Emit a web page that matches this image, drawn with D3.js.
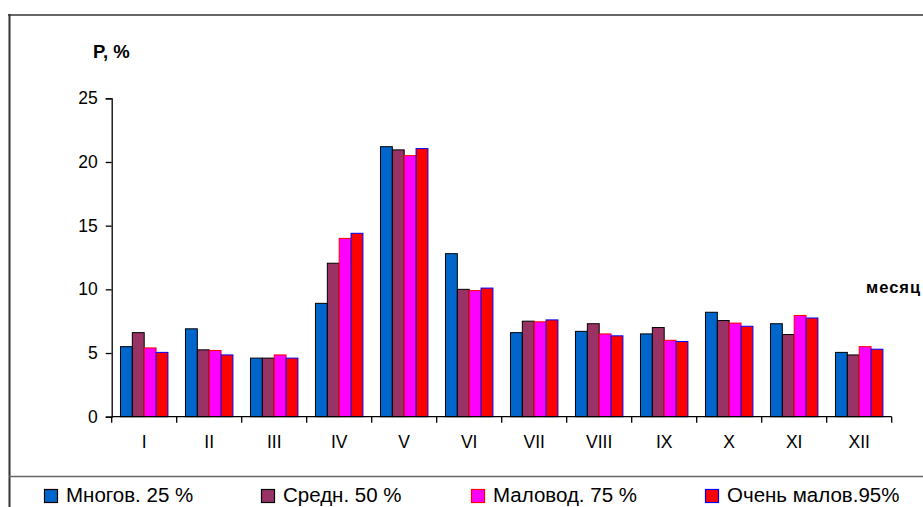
<!DOCTYPE html>
<html>
<head>
<meta charset="utf-8">
<script src="https://cdn.jsdelivr.net/npm/d3@7"></script>
<style>
  html, body { margin: 0; padding: 0; background: #fff; }
  svg { display: block; font-family: "Liberation Sans", Arial, sans-serif; }
</style>
</head>
<body>
<svg id="chart" width="923" height="507"></svg>
<script>
const months = ["I", "II", "III", "IV", "V", "VI", "VII", "VIII", "IX", "X", "XI", "XII"];
const seriesNames = ["Многов. 25 %", "Средн. 50 %", "Маловод. 75 %", "Очень малов.95%"];
const mnogov = [5.5, 6.9, 4.6, 8.9, 21.2, 12.8, 6.6, 6.7, 6.5, 8.2, 7.3, 5.05];
const sredn = [6.6, 5.25, 4.6, 12.05, 20.95, 10.0, 7.5, 7.3, 7.0, 7.55, 6.45, 4.85];
const malovod = [5.4, 5.2, 4.85, 14.0, 20.5, 9.9, 7.45, 6.5, 6.0, 7.35, 7.95, 5.5];
const ochenMalov = [5.05, 4.85, 4.6, 14.4, 21.05, 10.1, 7.6, 6.35, 5.9, 7.1, 7.75, 5.3];
const yTicks = [0, 5, 10, 15, 20, 25];
const yLabel = "P, %";
const xLabel = "месяц";

const seriesValues = [mnogov, sredn, malovod, ochenMalov];
const fills = ["#0066CC", "#993366", "#FF00FF", "#FF0000"];
const strokes = ["#000000", "#000000", "#FF0000", "#0000FF"];

const svg = d3.select("#chart");

// frame
svg.append("line").attr("x1", 8).attr("x2", 923).attr("y1", 15).attr("y2", 15)
  .attr("stroke", "#666").attr("stroke-width", 2);
svg.append("line").attr("x1", 9.5).attr("x2", 9.5).attr("y1", 14).attr("y2", 507)
  .attr("stroke", "#333").attr("stroke-width", 2);
svg.append("line").attr("x1", 9).attr("x2", 923).attr("y1", 476.5).attr("y2", 476.5)
  .attr("stroke", "#666").attr("stroke-width", 1.5);

const plotLeft = 111.7, plotRight = 891.7, plotTop = 98.3, plotBottom = 416.7;

const x0 = d3.scaleBand().domain(months).range([plotLeft, plotRight])
  .paddingInner(0.27).paddingOuter(0.135);
const x1 = d3.scaleBand().domain(d3.range(seriesNames.length)).range([0, x0.bandwidth()]);
const y = d3.scaleLinear().domain([0, 25]).range([plotBottom, plotTop]);

// bars
const groups = svg.append("g").selectAll("g").data(months).join("g")
  .attr("transform", d => `translate(${x0(d)},0)`);
groups.selectAll("rect")
  .data((m, i) => seriesValues.map((s, k) => ({ k, v: s[i] })))
  .join("rect")
  .attr("x", d => x1(d.k))
  .attr("width", x1.bandwidth())
  .attr("y", d => y(d.v))
  .attr("height", d => y(0) - y(d.v))
  .attr("fill", d => fills[d.k])
  .attr("stroke", d => strokes[d.k])
  .attr("stroke-width", 1);

// y axis
const yAxis = svg.append("g").attr("transform", `translate(${plotLeft},0)`)
  .call(d3.axisLeft(y).tickValues(yTicks).tickSize(6).tickPadding(8));
yAxis.select(".domain").attr("stroke", "#000").attr("stroke-width", 1.3);
yAxis.selectAll(".tick line").attr("stroke", "#000").attr("stroke-width", 1.3);
yAxis.selectAll("text").attr("font-size", 17.5).attr("fill", "#000")
  .attr("font-family", "Liberation Sans, Arial, sans-serif");

// x axis: labels at centres, ticks at boundaries
const xAxis = svg.append("g").attr("transform", `translate(0,${plotBottom})`)
  .call(d3.axisBottom(x0).tickSize(0).tickPadding(18.5));
xAxis.select(".domain").remove();
xAxis.selectAll("text").attr("font-size", 17.5).attr("fill", "#000")
  .attr("font-family", "Liberation Sans, Arial, sans-serif");
svg.append("line").attr("x1", plotLeft).attr("x2", plotRight).attr("y1", plotBottom).attr("y2", plotBottom)
  .attr("stroke", "#000").attr("stroke-width", 1.3);
const bounds = months.map(m => x0(m) - x0.step() * x0.paddingInner() / 2).concat([plotRight]);
svg.append("g").selectAll("line").data(bounds).join("line")
  .attr("x1", d => d).attr("x2", d => d)
  .attr("y1", plotBottom).attr("y2", plotBottom + 6)
  .attr("stroke", "#000").attr("stroke-width", 1.3);

// axis titles
svg.append("text").attr("x", 93).attr("y", 57.5).attr("font-size", 18.5)
  .attr("font-weight", "bold").text(yLabel);
svg.append("text").attr("x", 866).attr("y", 292.5).attr("font-size", 16.5)
  .attr("font-weight", "bold").attr("letter-spacing", 1).text(xLabel);

// legend
const legendX = [44, 261, 471, 705];
const lg = svg.append("g").selectAll("g").data(seriesNames).join("g")
  .attr("transform", (d, i) => `translate(${legendX[i]},0)`);
lg.append("rect").attr("x", 0.5).attr("y", 489.5).attr("width", 13).attr("height", 13)
  .attr("fill", (d, i) => fills[i]).attr("stroke", (d, i) => strokes[i]).attr("stroke-width", 1.2);
lg.append("text").attr("x", 22).attr("y", 502).attr("font-size", 20.5).attr("fill", "#000")
  .text(d => d);
</script>
</body>
</html>
